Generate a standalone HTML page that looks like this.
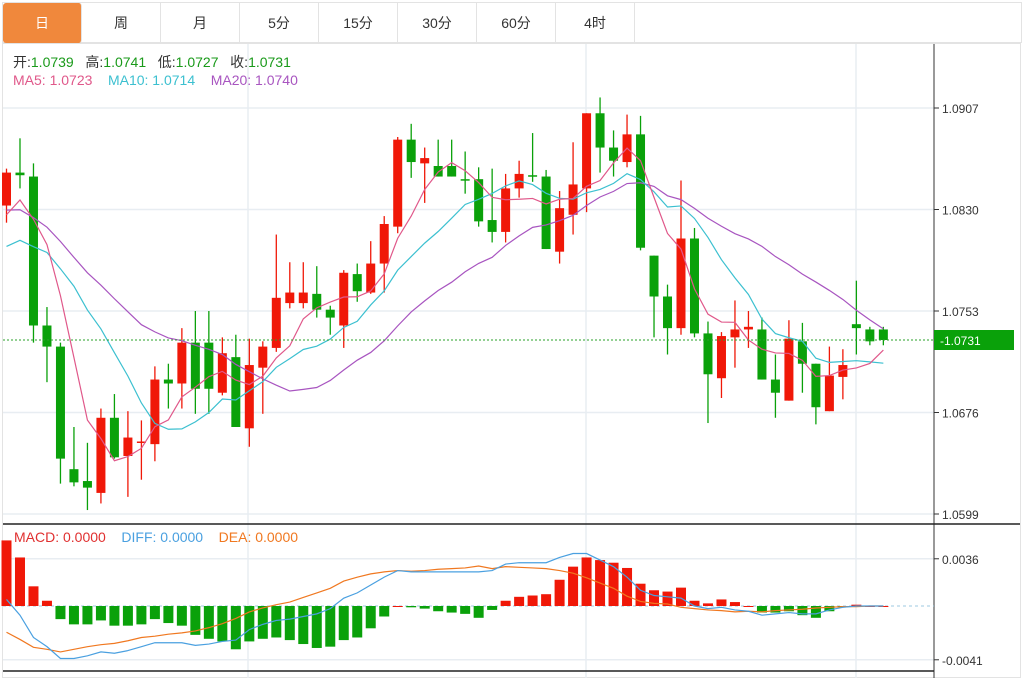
<!DOCTYPE html>
<html><head><meta charset="utf-8"><style>
body{margin:0;width:1024px;height:678px;background:#fff;font-family:"Liberation Sans","Noto Sans CJK SC",sans-serif;overflow:hidden;position:relative}
.tabs{position:absolute;left:2px;top:2px;height:41px;display:flex;border:1px solid #e3e3e3;border-right:none;box-sizing:border-box;width:1020px}
.tab{width:79px;height:40px;line-height:40px;text-align:center;font-size:14px;color:#333;border-right:1px solid #e3e3e3;box-sizing:border-box}
.tab.on{background:#f0883c;color:#fff;border-radius:3px}
.hdr{position:absolute;left:13px;font-size:14px}
</style></head><body>
<div class="tabs">
<div class="tab on">日</div>
<div class="tab">周</div>
<div class="tab">月</div>
<div class="tab">5分</div>
<div class="tab">15分</div>
<div class="tab">30分</div>
<div class="tab">60分</div>
<div class="tab">4时</div>
<div class="tab" style="flex:1"></div>
</div>
<svg id="c" width="1024" height="678" style="position:absolute;left:0;top:0"></svg>
<div class="hdr" style="top:52px"><span style="color:#333">开:</span><span style="color:#1a9a1a">1.0739</span>&nbsp;&nbsp; <span style="color:#333">高:</span><span style="color:#1a9a1a">1.0741</span>&nbsp;&nbsp; <span style="color:#333">低:</span><span style="color:#1a9a1a">1.0727</span>&nbsp;&nbsp; <span style="color:#333">收:</span><span style="color:#1a9a1a">1.0731</span></div>
<div class="hdr" style="top:72px"><span style="color:#e0588a">MA5: 1.0723</span>&nbsp;&nbsp;&nbsp; <span style="color:#3cc0d0">MA10: 1.0714</span>&nbsp;&nbsp;&nbsp; <span style="color:#a855c0">MA20: 1.0740</span></div>
<div class="hdr" style="top:529px;left:14px"><span style="color:#e03030">MACD: 0.0000</span>&nbsp;&nbsp;&nbsp; <span style="color:#4aa0e0">DIFF: 0.0000</span>&nbsp;&nbsp;&nbsp; <span style="color:#f07820">DEA: 0.0000</span></div>
<script>
const opens=[1.0833,1.0858,1.0855,1.0742,1.0726,1.0633,1.0624,1.0615,1.0672,1.0643,1.0653,1.0652,1.0701,1.0698,1.0729,1.0729,1.0691,1.0718,1.0664,1.0710,1.0725,1.0759,1.0759,1.0766,1.0754,1.0742,1.0781,1.0767,1.0789,1.0817,1.0883,1.0865,1.0863,1.0863,1.0853,1.0853,1.0822,1.0813,1.0846,1.0856,1.0855,1.0798,1.0826,1.0846,1.0903,1.0877,1.0866,1.0887,1.0795,1.0764,1.0740,1.0808,1.0736,1.0702,1.0733,1.0739,1.0739,1.0701,1.0685,1.0730,1.0713,1.0677,1.0703,1.0743,1.0739,1.0739];
const highs=[1.0861,1.0884,1.0865,1.0756,1.0729,1.0665,1.0653,1.0679,1.0690,1.0677,1.0670,1.0711,1.0713,1.0740,1.0753,1.0753,1.0733,1.0735,1.0732,1.0730,1.0811,1.0790,1.0790,1.0787,1.0757,1.0784,1.0789,1.0806,1.0825,1.0885,1.0895,1.0877,1.0883,1.0883,1.0874,1.0862,1.0861,1.0857,1.0867,1.0888,1.0860,1.0844,1.0881,1.0903,1.0915,1.0890,1.0902,1.0901,1.0795,1.0773,1.0852,1.0816,1.0745,1.0737,1.0761,1.0753,1.0748,1.0720,1.0746,1.0744,1.0713,1.0726,1.0724,1.0776,1.0741,1.0741];
const lows=[1.0820,1.0846,1.0729,1.0699,1.0622,1.0620,1.0602,1.0607,1.0641,1.0612,1.0625,1.0639,1.0679,1.0679,1.0675,1.0675,1.0689,1.0665,1.0650,1.0675,1.0722,1.0755,1.0755,1.0748,1.0735,1.0725,1.0760,1.0766,1.0767,1.0812,1.0854,1.0835,1.0855,1.0855,1.0842,1.0817,1.0805,1.0805,1.0839,1.0851,1.0800,1.0789,1.0811,1.0828,1.0858,1.0855,1.0862,1.0799,1.0733,1.0720,1.0735,1.0733,1.0668,1.0687,1.0710,1.0725,1.0701,1.0672,1.0685,1.0691,1.0667,1.0677,1.0686,1.0720,1.0727,1.0727];
const closes=[1.0858,1.0856,1.0742,1.0726,1.0641,1.0623,1.0619,1.0672,1.0642,1.0657,1.0654,1.0701,1.0698,1.0729,1.0694,1.0694,1.0721,1.0665,1.0712,1.0726,1.0763,1.0767,1.0767,1.0754,1.0748,1.0782,1.0768,1.0789,1.0819,1.0883,1.0866,1.0869,1.0855,1.0855,1.0852,1.0821,1.0813,1.0846,1.0857,1.0855,1.0800,1.0831,1.0849,1.0903,1.0877,1.0867,1.0887,1.0801,1.0764,1.0740,1.0808,1.0736,1.0705,1.0734,1.0739,1.0741,1.0701,1.0691,1.0732,1.0713,1.0680,1.0704,1.0712,1.0740,1.0730,1.0731];
const priorCloses=[1.0850,1.0862,1.0870,1.0858,1.0865,1.0852,1.0860,1.0848,1.0855,1.0850,1.0810,1.0790,1.0770,1.0765,1.0755,1.0800,1.0815,1.0822,1.0835];
const macdHist=[0.0050,0.0037,0.0015,0.0004,-0.0010,-0.0014,-0.0014,-0.0011,-0.0015,-0.0015,-0.0014,-0.0010,-0.0013,-0.0015,-0.0022,-0.0025,-0.0027,-0.0033,-0.0027,-0.0025,-0.0024,-0.0026,-0.0029,-0.0032,-0.0031,-0.0026,-0.0024,-0.0017,-0.0008,0.0000,-0.0001,-0.0002,-0.0004,-0.0005,-0.0006,-0.0009,-0.0003,0.0004,0.0007,0.0008,0.0009,0.0020,0.0030,0.0037,0.0035,0.0033,0.0029,0.0017,0.0012,0.0011,0.0014,0.0004,0.0002,0.0005,0.0003,0.0000,-0.0005,-0.0005,-0.0004,-0.0007,-0.0009,-0.0004,-0.0001,0.0001,0.0000,0.0000];
const diffVals=[0.0005,-0.0007,-0.0024,-0.0031,-0.0040,-0.0040,-0.0038,-0.0035,-0.0036,-0.0034,-0.0031,-0.0028,-0.0028,-0.0028,-0.0030,-0.0029,-0.0027,-0.0026,-0.0018,-0.0014,-0.0011,-0.0010,-0.0008,-0.0006,-0.0002,0.0006,0.0010,0.0016,0.0022,0.0027,0.0026,0.0026,0.0026,0.0026,0.0026,0.0026,0.0027,0.0032,0.0033,0.0033,0.0033,0.0037,0.0040,0.0040,0.0035,0.0030,0.0022,0.0012,0.0008,0.0007,0.0006,0.0000,-0.0002,-0.0001,-0.0003,-0.0004,-0.0007,-0.0006,-0.0005,-0.0006,-0.0006,-0.0003,-0.0001,0.0000,0.0000,0.0000];
const priceTicks=[1.0907,1.0830,1.0753,1.0676,1.0599];
const macdTicks=[0.0036,-0.0041];
const lastPrice=1.0731;

const svg=document.getElementById('c');const NS='http://www.w3.org/2000/svg';
function mk(t,a,name,parent){const e=document.createElementNS(NS,t);for(const k in a)e.setAttribute(k,a[k]);


(parent||svg).appendChild(e);return e;}
const py=p=>108+(1.0907-p)/0.0308*406;
const my=v=>606-v/0.0077*101;
const cx=i=>6.5+i*13.49;
mk('rect',{x:2.5,y:43.5,width:1018,height:634,fill:'none',stroke:'#e3e3e3'},'chart-frame');
priceTicks.forEach(t=>{mk('line',{x1:3,x2:934,y1:py(t),y2:py(t),stroke:'#e8edf2','stroke-width':1.5},'price-gridline');
const tx=mk('text',{x:942,y:py(t)+5,'font-size':12,fill:'#333'},'price-tick-label');tx.textContent=t.toFixed(4);
mk('line',{x1:934,x2:939,y1:py(t),y2:py(t),stroke:'#333'},'price-tick');});
macdTicks.forEach(t=>{mk('line',{x1:3,x2:934,y1:my(t),y2:my(t),stroke:'#e8edf2','stroke-width':1.5},'macd-gridline');
const tx=mk('text',{x:942,y:my(t)+5,'font-size':12,fill:'#333'},'macd-tick-label');tx.textContent=t.toFixed(4);
mk('line',{x1:934,x2:939,y1:my(t),y2:my(t),stroke:'#333'},'macd-tick');});
[248,586,856].forEach(x=>mk('line',{x1:x,x2:x,y1:44,y2:678,stroke:'#e8edf2','stroke-width':1.5},'time-gridline'));
mk('line',{x1:934,x2:934,y1:44,y2:678,stroke:'#333'},'y-axis-line');
mk('line',{x1:3,x2:1020,y1:524,y2:524,stroke:'#222','stroke-width':1.5},'pane-separator');
mk('line',{x1:3,x2:934,y1:671,y2:671,stroke:'#222','stroke-width':1.5},'macd-bottom-line');
mk('line',{x1:3,x2:934,y1:my(0),y2:my(0),stroke:'#9cc8e0','stroke-dasharray':'3,3'},'macd-zero-line');
closes.forEach((c,i)=>{const o=opens[i],up=c>=o,col=up?'#f01808':'#0aa10a',x=cx(i);
mk('line',{x1:x,x2:x,y1:py(highs[i]),y2:py(lows[i]),stroke:col,'stroke-width':1.3},'candle-wick');
const t=py(Math.max(o,c)),b=py(Math.min(o,c));
mk('rect',{x:x-4.5,y:t,width:9,height:Math.max(b-t,1.5),fill:col},'candle-body');});
const all=priorCloses.concat(closes);
function ma(n,col,name){let pts=[];closes.forEach((c,i)=>{const j=i+priorCloses.length;let s=0;for(let k=j-n+1;k<=j;k++)s+=all[k];pts.push(cx(i)+','+py(s/n));});
mk('polyline',{points:pts.join(' '),fill:'none',stroke:col,'stroke-width':1.2},name);}
ma(20,'#a855c0','ma20-line');ma(10,'#3cc0d0','ma10-line');ma(5,'#e0588a','ma5-line');
mk('line',{x1:3,x2:934,y1:py(lastPrice),y2:py(lastPrice),stroke:'#2aa02a','stroke-dasharray':'2,2'},'last-price-line');
mk('rect',{x:934,y:py(lastPrice)-10,width:80,height:20,fill:'#0aa10a'},'last-price-tag');
const lt=mk('text',{x:940,y:py(lastPrice)+5,'font-size':12,fill:'#fff'},'last-price-label');lt.textContent='-'+lastPrice.toFixed(4);
macdHist.forEach((v,i)=>{const y0=my(0),y1=my(v);
mk('rect',{x:cx(i)-5,y:Math.min(y0,y1),width:10,height:Math.max(Math.abs(y1-y0),1),fill:v>=0?'#f01808':'#0aa10a'},'macd-bar');});
const deaVals=diffVals.map((d,i)=>d-macdHist[i]/2);
mk('polyline',{points:deaVals.map((v,i)=>cx(i)+','+my(v)).join(' '),fill:'none',stroke:'#f07820','stroke-width':1.2},'dea-line');
mk('polyline',{points:diffVals.map((v,i)=>cx(i)+','+my(v)).join(' '),fill:'none',stroke:'#4aa0e0','stroke-width':1.2},'diff-line');
</script>
</body></html>
